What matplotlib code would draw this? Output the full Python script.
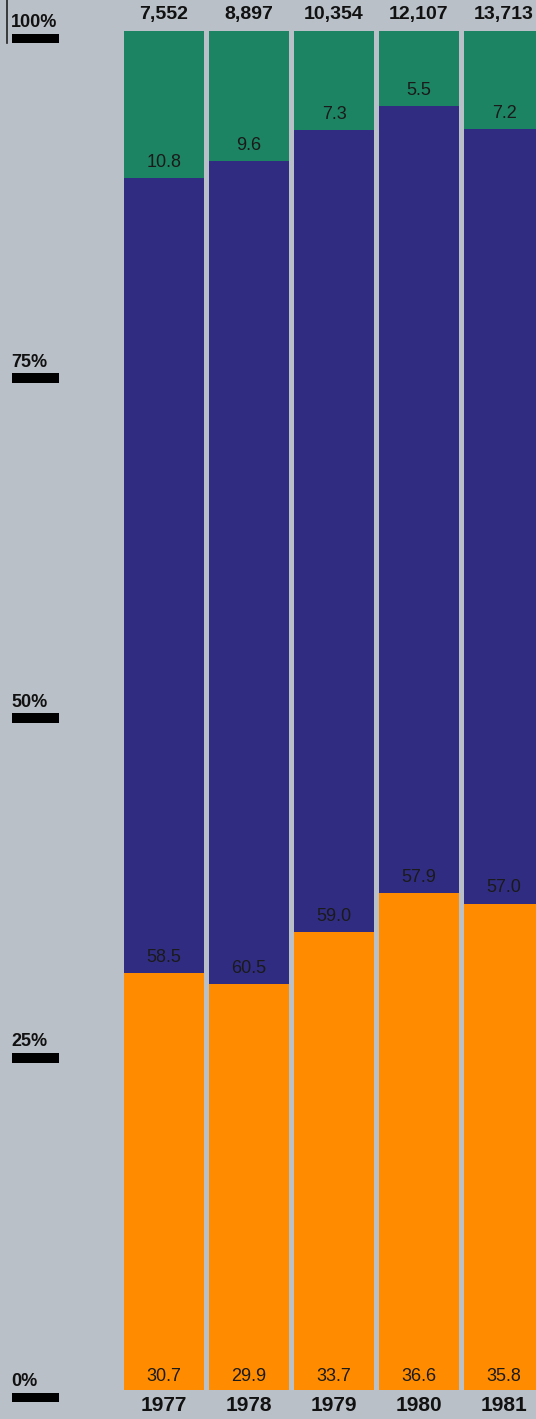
import matplotlib.pyplot as plt
import numpy as np

years = ["1977", "1978", "1979", "1980", "1981"]
totals = ["7,552", "8,897", "10,354", "12,107", "13,713"]
orange_pct = [30.7, 29.9, 33.7, 36.6, 35.8]
blue_pct = [58.5, 60.5, 59.0, 57.9, 57.0]
green_pct = [10.8, 9.6, 7.3, 5.5, 7.2]
tick_vals = [0, 25, 50, 75, 100]
tick_labels = ["0%", "25%", "50%", "75%", "100%"]

bg = "#b9c0c8"
c_orange = "#ff8c00"
c_blue = "#302c82"
c_green = "#1c8462"

plt.rcParams['font.family'] = ['Liberation Sans', 'DejaVu Sans']

fig = plt.figure(figsize=(5.36, 14.19), dpi=100, facecolor=bg)
ax = fig.add_axes([0, 0, 1, 1])
ax.set_facecolor(bg)

x = np.arange(len(years))
w = 0.94
orange = np.array(orange_pct)
blue = np.array(blue_pct)
green = np.array(green_pct)

ax.bar(x, orange, width=w, color=c_orange)
ax.bar(x, blue, width=w, bottom=orange, color=c_blue)
ax.bar(x, green, width=w, bottom=orange + blue, color=c_green)

for i in range(len(years)):
    ax.text(x[i], 1.0, f"{orange[i]:.1f}", ha='center', va='center', fontsize=13, color='#1a1a1a')
    ax.text(x[i], orange[i] + 1.15, f"{blue[i]:.1f}", ha='center', va='center', fontsize=13, color='#1a1a1a')
    ax.text(x[i], orange[i] + blue[i] + 1.15, f"{green[i]:.1f}", ha='center', va='center', fontsize=13, color='#1a1a1a')
    ax.text(x[i], 101.2, totals[i], ha='center', va='center', fontsize=14, fontweight='bold', color='#111111')
    ax.text(x[i], -1.1, years[i], ha='center', va='center', fontsize=15, fontweight='bold', color='#111111')

# scale marks on the left
for v, lab in zip(tick_vals, tick_labels):
    ax.add_patch(plt.Rectangle((-1.79, v - 0.9), 0.555, 0.7, color='black', lw=0))
    ax.text(-1.80, v + 0.0, lab, ha='left', va='bottom', fontsize=13, fontweight='bold', color='#111111')

ax.axvline(-1.847, ymin=0.970, ymax=1.0, color='#222222', lw=1.2)

ax.set_xlim(-1.93, 4.376)
ax.set_ylim(-2.13, 102.28)
ax.axis('off')

fig.savefig("out.png", dpi=100, facecolor=bg)
